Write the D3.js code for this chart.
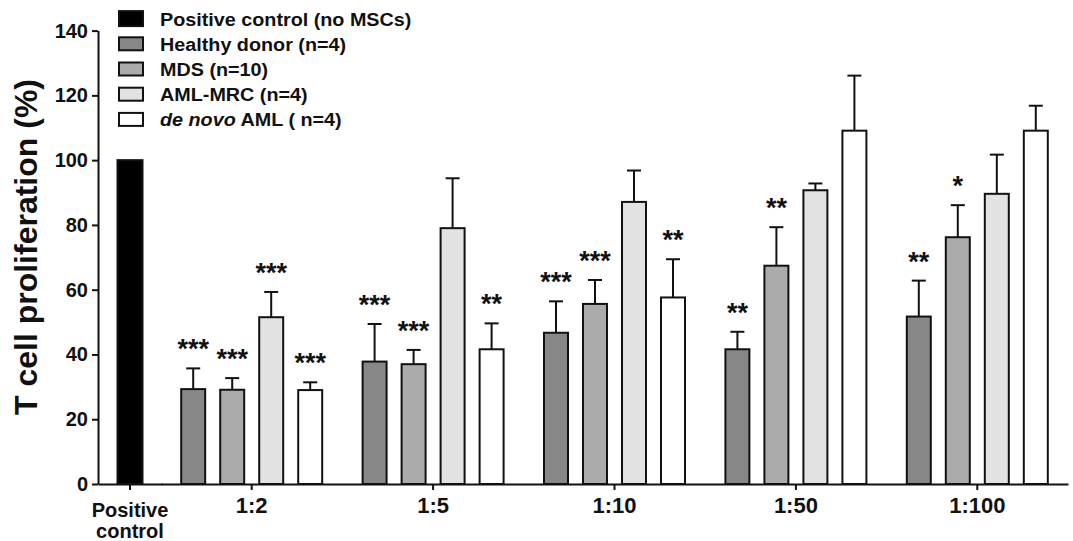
<!DOCTYPE html>
<html><head><meta charset="utf-8">
<script src="https://cdn.jsdelivr.net/npm/d3@7"></script>
<style>
html,body{margin:0;padding:0;background:#fff;}
text{font-family:"Liberation Sans",Arial,Helvetica,sans-serif;}
</style></head>
<body><svg id="chart" width="1073" height="541"></svg>
<script>
// ---------- data ----------
const controlLabel = "Positive control";
const controlValue = [100];
const categories = ["1:2", "1:5", "1:10", "1:50", "1:100"];
const seriesNames = ["Healthy donor (n=4)", "MDS (n=10)", "AML-MRC (n=4)", "de novo AML ( n=4)"];
const hdMean = [29.3, 37.8, 46.7, 41.6, 51.7];
const hdSem = [6.4, 11.6, 9.7, 5.4, 11.1];
const mdsMean = [29.1, 37.0, 55.6, 67.4, 76.2];
const mdsSem = [3.6, 4.4, 7.4, 11.9, 9.9];
const amlMean = [51.5, 79.0, 87.1, 90.7, 89.6];
const amlSem = [7.8, 15.4, 9.7, 2.1, 12.1];
const deNovoMean = [29.0, 41.6, 57.6, 109.1, 109.1];
const deNovoSem = [2.4, 8.0, 11.8, 17.0, 7.7];
const hdStars = ["***", "***", "***", "**", "**"];
const mdsStars = ["***", "***", "***", "**", "*"];
const amlStars = ["***", "", "", "", ""];
const deNovoStars = ["***", "**", "**", "", ""];
const legendLabels = ["Positive control (no MSCs)", "Healthy donor (n=4)", "MDS (n=10)", "AML-MRC (n=4)", "de novo AML ( n=4)"];
const yTicks = [0, 20, 40, 60, 80, 100, 120, 140];
const yTitle = "T cell proliferation (%)";

// ---------- styles ----------
const fills = ["#000000", "#878787", "#ababab", "#e2e2e2", "#ffffff"];
const ink = "#111";
const FONT = '"Liberation Sans",Arial,sans-serif';

const svg = d3.select("#chart");
const y = d3.scaleLinear().domain([0, 140]).range([484, 30.6]);
const xCtrl = d3.scaleBand().domain([controlLabel]).range([98, 162]).paddingOuter(0.78);
const xGroup = d3.scaleBand().domain(categories).range([161, 1068]);
const xSeries = d3.scaleBand().domain(seriesNames).range([0, xGroup.bandwidth()]).paddingInner(0.385).paddingOuter(0.518);

const means = [hdMean, mdsMean, amlMean, deNovoMean];
const sems = [hdSem, mdsSem, amlSem, deNovoSem];
const stars = [hdStars, mdsStars, amlStars, deNovoStars];

const rows = [];
seriesNames.forEach((s, si) => categories.forEach((c, ci) => rows.push({
  s, si, c, v: means[si][ci], e: sems[si][ci], star: stars[si][ci]
})));

// control bar
svg.append("g").selectAll("rect").data(controlValue).join("rect")
  .attr("x", xCtrl(controlLabel)).attr("width", xCtrl.bandwidth())
  .attr("y", d => y(d)).attr("height", d => y(0) - y(d))
  .attr("fill", fills[0]).attr("stroke", ink).attr("stroke-width", 2);

// error bars
const eg = svg.append("g").attr("stroke", ink).attr("stroke-width", 2);
rows.forEach(d => {
  const cx = xGroup(d.c) + xSeries(d.s) + xSeries.bandwidth() / 2;
  eg.append("line").attr("x1", cx).attr("x2", cx).attr("y1", y(d.v)).attr("y2", y(d.v + d.e));
  eg.append("line").attr("x1", cx - 7).attr("x2", cx + 7).attr("y1", y(d.v + d.e)).attr("y2", y(d.v + d.e));
});

// bars
svg.append("g").selectAll("rect").data(rows).join("rect")
  .attr("x", d => xGroup(d.c) + xSeries(d.s)).attr("width", xSeries.bandwidth())
  .attr("y", d => y(d.v)).attr("height", d => y(0) - y(d.v))
  .attr("fill", d => fills[d.si + 1]).attr("stroke", ink).attr("stroke-width", 2);

// stars
svg.append("g").selectAll("text").data(rows.filter(d => d.star)).join("text")
  .attr("x", d => xGroup(d.c) + xSeries(d.s) + xSeries.bandwidth() / 2)
  .attr("y", d => y(d.v + d.e) - 10)
  .attr("text-anchor", "middle").attr("font-size", 27).attr("font-weight", "bold").attr("fill", ink)
  .text(d => d.star);

// y axis
const ya = svg.append("g").attr("transform", `translate(${xCtrl.range()[0]},0)`)
  .call(d3.axisLeft(y).tickValues(yTicks).tickSize(6).tickSizeOuter(0).tickPadding(4));
ya.selectAll("path,line").attr("stroke", ink).attr("stroke-width", 2);
ya.selectAll("text").attr("font-size", 20).attr("font-weight", "bold").attr("fill", ink)
  .attr("font-family", FONT);

// x axis
const xa1 = svg.append("g").attr("transform", `translate(0,${y(0)})`)
  .call(d3.axisBottom(xCtrl).tickSize(6).tickSizeOuter(0));
const xa2 = svg.append("g").attr("transform", `translate(0,${y(0)})`)
  .call(d3.axisBottom(xGroup).tickSize(6).tickSizeOuter(0));
[xa1, xa2].forEach(a => a.selectAll("path,line").attr("stroke", ink).attr("stroke-width", 2));
xa2.selectAll("text").attr("font-size", 22).attr("font-weight", "bold").attr("fill", ink)
  .attr("font-family", FONT).attr("y", 29).attr("dy", 0);
xa1.selectAll("text").each(function(d) {
  const t = d3.select(this).text("").attr("font-size", 20).attr("font-weight", "bold").attr("fill", ink)
    .attr("font-family", FONT).attr("y", 0).attr("dy", 0);
  d.split(" ").forEach((w, i) => t.append("tspan").attr("x", 0).attr("y", 33 + i * 21).text(w));
});

// y title
svg.append("text").attr("transform", "translate(37,247) rotate(-90)")
  .attr("text-anchor", "middle").attr("font-size", 32).attr("font-weight", "bold").attr("fill", ink)
  .text(yTitle);

// legend
const ly = d3.scaleBand().domain(legendLabels).range([6, 132]);
const lg = svg.append("g");
legendLabels.forEach((lab, i) => {
  const cy = ly(lab) + ly.bandwidth() / 2;
  const h = i === 0 ? 15 : 13;
  lg.append("rect").attr("x", 119).attr("y", cy - h / 2).attr("width", 24).attr("height", h)
    .attr("fill", fills[i]).attr("stroke", ink).attr("stroke-width", 2);
  const t = lg.append("text").attr("transform", `translate(160,${cy + 7}) scale(1.13,1)`)
    .attr("font-size", 17.5).attr("font-weight", "bold").attr("fill", ink);
  if (lab.startsWith("de novo")) {
    t.append("tspan").attr("font-style", "italic").text("de novo");
    t.append("tspan").text(lab.slice(7));
  } else t.text(lab);
});
</script></body></html>
